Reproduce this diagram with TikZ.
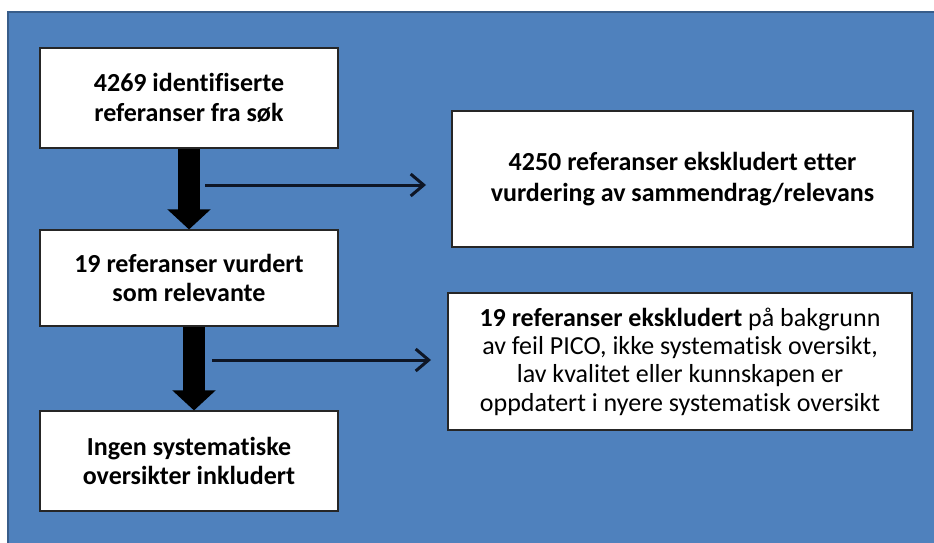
\documentclass[tikz,border=0pt]{standalone}
\usepackage{fontspec}
\setmainfont[Ligatures=CommonOff]{Carlito}
\usetikzlibrary{arrows.meta}
\definecolor{bgblue}{HTML}{4F81BD}
\definecolor{bgborder}{HTML}{385D8A}
\definecolor{arrowdark}{HTML}{0E1626}
\tikzset{
  box/.style={draw=black!85, line width=1.1pt, fill=white, inner sep=0pt,
    align=center, font=\fontsize{26}{29.5}\selectfont\bfseries},
  thickarrow/.style={draw=black, line width=22pt,
    -{Triangle[width=42pt,length=20pt]}, shorten >=0pt},
  thinarrow/.style={draw=arrowdark, line width=3pt,
    -{Straight Barb[width=22pt,length=13pt,line width=3pt]}}
}
\begin{document}
\begin{tikzpicture}[x=1pt,y=-1pt]
\useasboundingbox (0,0) rectangle (934,543);
\clip (0,0) rectangle (934,543);
\fill[white] (0,0) rectangle (934,543);
\draw[fill=bgblue, draw=bgborder, line width=2pt] (8,12) rectangle (940,549);

\node[box, minimum width=298pt, minimum height=100pt] (b1) at (189,98)
  {4269 identifiserte\\referanser fra søk};
\node[box, minimum width=298pt, minimum height=96pt] (b3) at (189,278)
  {19 referanser vurdert\\som relevante};
\node[box, minimum width=298pt, minimum height=100pt] (b5) at (189,461)
  {Ingen systematiske\\oversikter inkludert};
\node[box, minimum width=461pt, minimum height=136pt,
  font=\fontsize{26}{30.5}\selectfont\bfseries] (b2) at (682.5,179)
  {4250 referanser ekskludert etter\\vurdering av sammendrag/relevans};
\node[box, minimum width=464pt, minimum height=137pt,
  font=\fontsize{26}{28.3}\selectfont] (b4) at (680,361.5)
  {\textbf{19 referanser ekskludert} på bakgrunn\\av feil PICO, ikke systematisk oversikt,\\lav kvalitet eller kunnskapen er\\oppdatert i nyere systematisk oversikt};

\coordinate (x1) at (189,0);
\coordinate (x2) at (194,0);
\draw[thickarrow] (b1.south -| x1) -- (b3.north -| x1);
\draw[thickarrow] (b3.south -| x2) -- (b5.north -| x2);

\coordinate (t1s) at (205,185);
\coordinate (t1e) at (426,185);
\coordinate (t2s) at (212,360);
\coordinate (t2e) at (431,360);
\draw[thinarrow] (t1s) -- (t1e);
\draw[thinarrow] (t2s) -- (t2e);
\end{tikzpicture}
\end{document}
